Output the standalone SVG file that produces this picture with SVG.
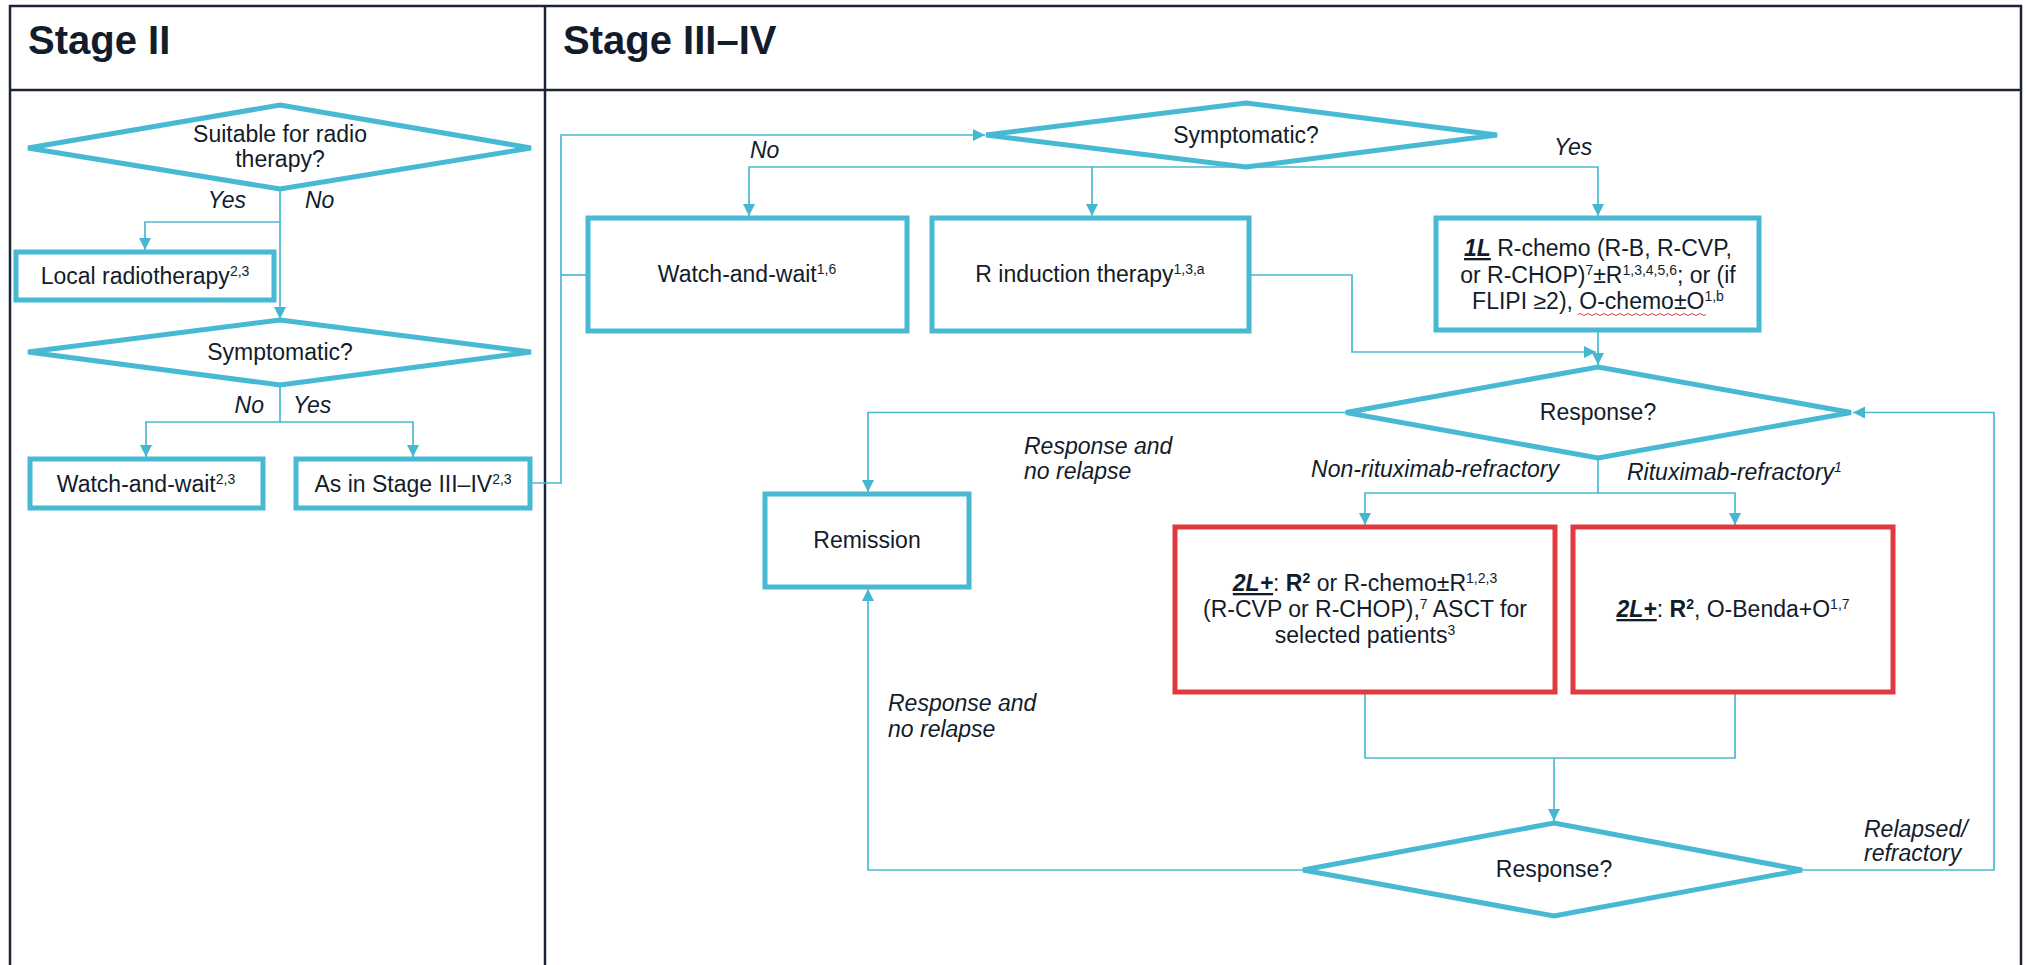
<svg xmlns="http://www.w3.org/2000/svg" width="2026" height="965" viewBox="0 0 2026 965">
<style>
  text { font-family: "Liberation Sans", Arial, sans-serif; fill: #121c2b; font-size: 23px; }
  .hdr { font-size: 40px; font-weight: bold; }
  .c { text-anchor: middle; }
  .it { font-style: italic; }
  .b { font-weight: bold; }
  .u { text-decoration: underline; }
  .node { fill: #ffffff; stroke: #48b9d2; stroke-width: 5; }
  .red { fill: #ffffff; stroke: #e2383f; stroke-width: 5; }
  .conn { fill: none; stroke: #4ab9d2; stroke-width: 1.7; }
  .grid { fill: none; stroke: #1b2535; stroke-width: 2.5; }
</style>
<defs>
  <marker id="arr" viewBox="0 0 12 12" refX="12" refY="6" markerWidth="12" markerHeight="13" markerUnits="userSpaceOnUse" orient="auto">
    <path d="M0,0 L12,6 L0,12 z" fill="#45b8d1"/>
  </marker>
</defs>
<rect width="2026" height="965" fill="#ffffff"/>

<g id="table">
  <path class="grid" d="M10,965 V6 H2021 V965 M10,90 H2021 M545,6 V965"/>
  <text class="hdr" x="28" y="54">Stage II</text>
  <text class="hdr" x="563" y="54">Stage III–IV</text>
</g>

<g id="connectors">
  <!-- Stage II -->
  <path class="conn" d="M280,189 V319" marker-end="url(#arr)"/>
  <path class="conn" d="M280,222 H145 V250" marker-end="url(#arr)"/>
  <path class="conn" d="M280,385 V422 H146 V457" marker-end="url(#arr)"/>
  <path class="conn" d="M280,422 H413 V457" marker-end="url(#arr)"/>
  <path class="conn" d="M530,483 H561 V135 H985" marker-end="url(#arr)"/>
  <path class="conn" d="M588,275 H561"/>
  <!-- Stage III-IV -->
  <path class="conn" d="M1246,167 H749 V216" marker-end="url(#arr)"/>
  <path class="conn" d="M1092,167 V216" marker-end="url(#arr)"/>
  <path class="conn" d="M1246,167 H1598 V216" marker-end="url(#arr)"/>
  <path class="conn" d="M1249,275 H1352 V352 H1596" marker-end="url(#arr)"/>
  <path class="conn" d="M1598,331 V365" marker-end="url(#arr)"/>
  <path class="conn" d="M1346,412.5 H868 V492" marker-end="url(#arr)"/>
  <path class="conn" d="M1598,458 V493 H1365 V525" marker-end="url(#arr)"/>
  <path class="conn" d="M1598,493 H1735 V525" marker-end="url(#arr)"/>
  <path class="conn" d="M1365,692 V758 H1735 V692"/>
  <path class="conn" d="M1554,758 V821" marker-end="url(#arr)"/>
  <path class="conn" d="M1303,870 H868 V589" marker-end="url(#arr)"/>
  <path class="conn" d="M1802,870 H1994 V412.5 H1853" marker-end="url(#arr)"/>
  <!-- labels -->
  <text class="it" x="246" y="208" text-anchor="end">Yes</text>
  <text class="it" x="305" y="208">No</text>
  <text class="it" x="264" y="413" text-anchor="end">No</text>
  <text class="it" x="293" y="413">Yes</text>
  <text class="it" x="750" y="158">No</text>
  <text class="it" x="1554" y="155">Yes</text>
  <text class="it" x="1024" y="454">Response and</text>
  <text class="it" x="1024" y="479">no relapse</text>
  <text class="it" x="1559" y="477" text-anchor="end">Non-rituximab-refractory</text>
  <text class="it" x="1627" y="480">Rituximab-refractory<tspan font-size="14" baseline-shift="super">1</tspan></text>
  <text class="it" x="888" y="711">Response and</text>
  <text class="it" x="888" y="737">no relapse</text>
  <text class="it" x="1864" y="837">Relapsed/</text>
  <text class="it" x="1864" y="861">refractory</text>
</g>

<g id="suitable">
  <polygon class="node" points="280,105 531,148 280,189 28,148"/>
  <text class="c" x="280" y="142">Suitable for radio</text>
  <text class="c" x="280" y="167">therapy?</text>
</g>
<g id="local-radiotherapy">
  <rect class="node" x="16" y="252" width="258" height="48"/>
  <text class="c" x="145" y="284">Local radiotherapy<tspan font-size="14" baseline-shift="super">2,3</tspan></text>
</g>
<g id="symptomatic-ii">
  <polygon class="node" points="280,320 531,352 280,385 28,352"/>
  <text class="c" x="280" y="360">Symptomatic?</text>
</g>
<g id="watch-wait-ii">
  <rect class="node" x="30" y="459" width="233" height="49"/>
  <text class="c" x="146" y="492">Watch-and-wait<tspan font-size="14" baseline-shift="super">2,3</tspan></text>
</g>
<g id="as-in-stage">
  <rect class="node" x="296" y="459" width="234" height="49"/>
  <text class="c" x="413" y="492">As in Stage III–IV<tspan font-size="14" baseline-shift="super">2,3</tspan></text>
</g>

<g id="symptomatic-iii">
  <polygon class="node" points="1246,103 1497,135 1246,167 986,135"/>
  <text class="c" x="1246" y="143">Symptomatic?</text>
</g>
<g id="watch-wait-iii">
  <rect class="node" x="588" y="218" width="319" height="113"/>
  <text class="c" x="747" y="282">Watch-and-wait<tspan font-size="14" baseline-shift="super">1,6</tspan></text>
</g>
<g id="r-induction">
  <rect class="node" x="932" y="218" width="317" height="113"/>
  <text class="c" x="1090" y="282">R induction therapy<tspan font-size="14" baseline-shift="super">1,3,a</tspan></text>
</g>
<g id="first-line">
  <rect class="node" x="1436" y="218" width="323" height="112"/>
  <text class="c" x="1598" y="256"><tspan class="b it u">1L</tspan> R-chemo (R-B, R-CVP,</text>
  <text class="c" x="1598" y="283">or R-CHOP)<tspan font-size="14" baseline-shift="super">7</tspan>±R<tspan font-size="14" baseline-shift="super">1,3,4,5,6</tspan>; or (if</text>
  <text class="c" x="1598" y="309">FLIPI ≥2), O-chemo±O<tspan font-size="14" baseline-shift="super">1,b</tspan></text>
  <path d="M1578,314.5 q2,-2 4,0 t4,0 t4,0 t4,0 t4,0 t4,0 t4,0 t4,0 t4,0 t4,0 t4,0 t4,0 t4,0 t4,0 t4,0 t4,0 t4,0 t4,0 t4,0 t4,0 t4,0 t4,0 t4,0 t4,0 t4,0 t4,0 t4,0 t4,0 t4,0 t4,0 t4,0 t4,0" fill="none" stroke="#e53a3a" stroke-width="1"/>
</g>
<g id="response-1">
  <polygon class="node" points="1598,367 1851,412.5 1598,458 1346,412.5"/>
  <text class="c" x="1598" y="420">Response?</text>
</g>
<g id="remission">
  <rect class="node" x="765" y="494" width="204" height="93"/>
  <text class="c" x="867" y="548">Remission</text>
</g>
<g id="second-line-a">
  <rect class="red" x="1175" y="527" width="380" height="165"/>
  <text class="c" x="1365" y="591"><tspan class="b it u">2L+</tspan>: <tspan class="b">R</tspan><tspan class="b" font-size="14" baseline-shift="super">2</tspan> or R-chemo±R<tspan font-size="14" baseline-shift="super">1,2,3</tspan></text>
  <text class="c" x="1365" y="617">(R-CVP or R-CHOP),<tspan font-size="14" baseline-shift="super">7</tspan> ASCT for</text>
  <text class="c" x="1365" y="643">selected patients<tspan font-size="14" baseline-shift="super">3</tspan></text>
</g>
<g id="second-line-b">
  <rect class="red" x="1573" y="527" width="320" height="165"/>
  <text class="c" x="1733" y="617"><tspan class="b it u">2L+</tspan>: <tspan class="b">R</tspan><tspan class="b" font-size="14" baseline-shift="super">2</tspan>, O-Benda+O<tspan font-size="14" baseline-shift="super">1,7</tspan></text>
</g>
<g id="response-2">
  <polygon class="node" points="1554,823 1802,870 1554,916 1303,870"/>
  <text class="c" x="1554" y="877">Response?</text>
</g>
</svg>
